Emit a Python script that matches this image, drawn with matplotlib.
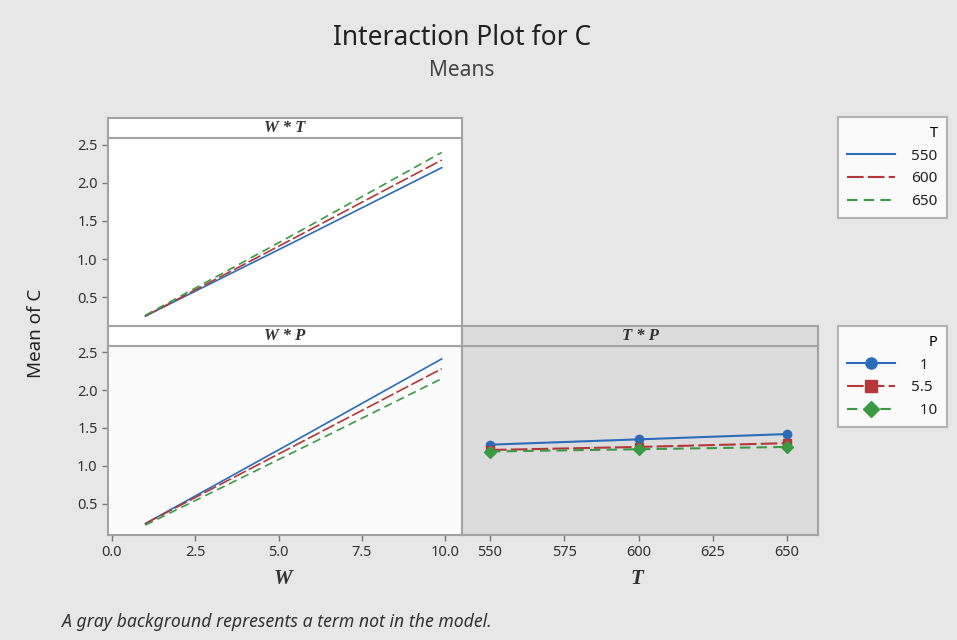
import numpy as np
import matplotlib
matplotlib.use('Agg')
import matplotlib.pyplot as plt
from matplotlib.lines import Line2D

plt.rcParams['font.family'] = ['Noto Sans', 'DejaVu Sans']

# Means
w_levels = [1.0, 5.45, 9.9]
t_levels = [550, 600, 650]
p_levels = [1, 5.5, 10]

# W * T : mean of C at each W for T = 550, 600, 650
wt_550 = [0.25, 1.22, 2.20]
wt_600 = [0.25, 1.27, 2.30]
wt_650 = [0.26, 1.32, 2.40]

# W * P : mean of C at each W for P = 1, 5.5, 10
wp_1 = [0.24, 1.32, 2.41]
wp_55 = [0.24, 1.26, 2.28]
wp_10 = [0.22, 1.18, 2.15]

# T * P : mean of C at each T for P = 1, 5.5, 10
tp_1 = [1.28, 1.35, 1.42]
tp_55 = [1.21, 1.25, 1.30]
tp_10 = [1.19, 1.22, 1.25]

t_labels = ['550', '600', '650']
p_labels = ['\u20071', '5.5', '\u200710']

BLUE = '#2b6cb8'
RED = '#b5373a'
GREEN = '#3c9a45'
BG = '#e7e7e7'
EDGE = '#a3a3a3'
styles = [dict(color=BLUE, ls='-'),
          dict(color=RED, ls=(0, (8, 2))),
          dict(color=GREEN, ls=(0, (5, 3)))]
markers = ['o', 's', 'D']

W, H = 957, 640
fig = plt.figure(figsize=(W / 100, H / 100), dpi=100, facecolor=BG)


def box(x0, y0, x1, y1):
    # pixel box (top-left origin) -> figure fraction rect
    return [x0 / W, 1 - y1 / H, (x1 - x0) / W, (y1 - y0) / H]


def header(x0, y0, x1, y1, text, face):
    hx = fig.add_axes(box(x0, y0, x1, y1))
    hx.set_facecolor(face)
    hx.set_xticks([])
    hx.set_yticks([])
    for s in hx.spines.values():
        s.set_color(EDGE)
        s.set_linewidth(1.5)
    hx.text(0.5, 0.5, text, ha='center', va='center', fontsize=12,
            family='Liberation Serif', style='italic', fontweight='bold',
            color='#333333', transform=hx.transAxes)
    return hx


def style_axes(ax, face):
    ax.set_facecolor(face)
    for s in ax.spines.values():
        s.set_color(EDGE)
        s.set_linewidth(1.5)
    ax.tick_params(length=4, color='#777777', labelsize=10.5,
                   labelcolor='#333333', width=1)


ylim_top = (0.12, 2.59)
ylim_bot = (0.09, 2.58)
yticks = [0.5, 1.0, 1.5, 2.0, 2.5]
xlim_w = (-0.12, 10.51)

# top-left: W * T
ax1 = fig.add_axes(box(108, 138, 462, 326))
style_axes(ax1, 'white')
for vals, st in zip([wt_550, wt_600, wt_650], styles):
    ax1.plot(w_levels, vals, lw=1.2, **st)
ax1.set_xlim(*xlim_w)
ax1.set_ylim(*ylim_top)
ax1.set_yticks(yticks)
ax1.set_xticks([])
header(108, 118, 462, 138, 'W * T', 'white')

# bottom-left: W * P
ax2 = fig.add_axes(box(108, 346, 462, 535))
style_axes(ax2, '#fbfbfb')
for vals, st in zip([wp_1, wp_55, wp_10], styles):
    ax2.plot(w_levels, vals, lw=1.2, **st)
ax2.set_xlim(*xlim_w)
ax2.set_ylim(*ylim_bot)
ax2.set_yticks(yticks)
ax2.set_xticks([0.0, 2.5, 5.0, 7.5, 10.0])
ax2.set_xticklabels(['0.0', '2.5', '5.0', '7.5', '10.0'])
header(108, 326, 462, 346, 'W * P', 'white')

# bottom-right: T * P (gray = term not in model)
ax3 = fig.add_axes(box(462, 346, 818, 535))
style_axes(ax3, '#dcdcdc')
for vals, st, mk in zip([tp_1, tp_55, tp_10], styles, markers):
    ax3.plot(t_levels, vals, lw=1.5, marker=mk, markersize=6, **st)
ax3.set_xlim(540.6, 660.4)
ax3.set_ylim(*ylim_bot)
ax3.set_yticks([])
ax3.set_xticks([550, 575, 600, 625, 650])
header(462, 326, 818, 346, 'T * P', '#dcdcdc')

# legends
t_handles = [Line2D([], [], lw=1.5, **st) for st in styles]
p_handles = [Line2D([], [], lw=1.5, marker=mk, markersize=8, **st)
             for st, mk in zip(styles, markers)]
for handles, labels, title, ytop in [(t_handles, t_labels, 'T', 117),
                                     (p_handles, p_labels, 'P', 326)]:
    leg = fig.legend(handles, labels, title=title, loc='upper left',
                     bbox_to_anchor=(838 / W, 1 - ytop / H),
                     frameon=True, fancybox=False, alignment='right',
                     fontsize=11, title_fontsize=10.5, handlelength=3.1,
                     handletextpad=1.1, labelspacing=0.5,
                     borderpad=0.6, borderaxespad=0)
    leg.get_frame().set_edgecolor(EDGE)
    leg.get_frame().set_linewidth(1.5)
    leg.get_title().set_fontweight('semibold')
    for t in leg.get_texts():
        t.set_fontweight('semibold')
        t.set_color('#222222')

# titles and labels
fig.text(462 / W, 1 - 38 / H, 'Interaction Plot for C', ha='center',
         va='center', fontsize=19, color='#222222')
fig.text(462 / W, 1 - 71 / H, 'Means', ha='center', va='center',
         fontsize=15, color='#444444')
fig.text(36 / W, 1 - 333 / H, 'Mean of C', rotation=90, ha='center',
         va='center', fontsize=13.5, color='#222222')
fig.text(283 / W, 1 - 579 / H, 'W', ha='center', va='center',
         fontsize=15, family='Liberation Serif', style='italic',
         fontweight='bold', color='#333333')
fig.text(637 / W, 1 - 579 / H, 'T', ha='center', va='center',
         fontsize=15, family='Liberation Serif', style='italic',
         fontweight='bold', color='#333333')
fig.text(62 / W, 1 - 622 / H,
         'A gray background represents a term not in the model.',
         ha='left', va='center', fontsize=12.7, style='italic',
         color='#333333')

plt.savefig('out.png', dpi=100, facecolor=BG)
